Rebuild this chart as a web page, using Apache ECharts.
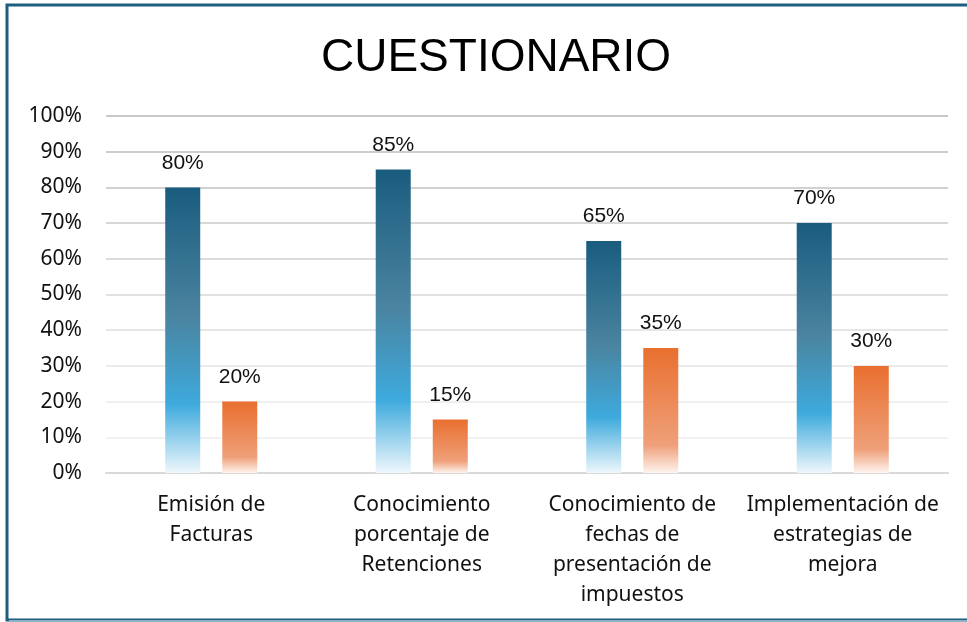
<!DOCTYPE html>
<html>
<head>
<meta charset="utf-8">
<script src="https://cdn.jsdelivr.net/npm/echarts@6/dist/echarts.min.js"></script>
<style>
  html, body { margin: 0; padding: 0; background: #fff; }
  #chart { width: 967px; height: 622px; }
</style>
</head>
<body>
<div id="chart"></div>
<script>
// categorías y valores del cuestionario
var categorias = [
    'Emisión de\nFacturas',
    'Conocimiento\nporcentaje de\nRetenciones',
    'Conocimiento de\nfechas de\npresentación de\nimpuestos',
    'Implementación de\nestrategias de\nmejora'
];
var valoresSi = [80, 85, 65, 70];
var valoresNo = [20, 15, 35, 30];
var ticksY = [0, 10, 20, 30, 40, 50, 60, 70, 80, 90, 100];

// colores de las líneas de la cuadrícula (de abajo hacia arriba)
var coloresGrid = ['#d9d9d9', '#f2f2f2', '#efefef', '#ebebeb', '#e6e6e6',
    '#e1e1e1', '#dcdcdc', '#d7d7d7', '#d1d1d1', '#cdcdcd', '#c8c8c8'];

var myChart = echarts.init(document.getElementById('chart'));

var azul = new echarts.graphic.LinearGradient(0, 0, 0, 1, [
    {offset: 0, color: '#1a5c7e'},
    {offset: 0.45, color: '#4a84a0'},
    {offset: 0.76, color: '#3eaadd'},
    {offset: 1, color: '#eef7fc'}
]);
var naranja = new echarts.graphic.LinearGradient(0, 0, 0, 1, [
    {offset: 0, color: '#e96f2f'},
    {offset: 0.78, color: '#efa07a'},
    {offset: 1, color: '#fef4ef'}
]);

var option = {
    animation: false,
    backgroundColor: '#fff',
    title: {
        text: 'CUESTIONARIO',
        left: 316,
        top: 30,
        textStyle: {
            fontFamily: 'Liberation Sans',
            fontSize: 46,
            fontWeight: 'normal',
            color: '#000'
        }
    },
    graphic: [
        {
            type: 'rect',
            shape: {x: 7, y: 5, width: 1000, height: 615},
            style: {fill: 'none', stroke: '#1c5d80', lineWidth: 3}
        },
        {
            type: 'line',
            shape: {x1: 9, y1: 621, x2: 967, y2: 621},
            style: {stroke: '#8eb1c4', lineWidth: 2}
        }
    ],
    grid: {
        left: 106,
        right: 19,
        top: 116,
        bottom: 149
    },
    xAxis: {
        type: 'category',
        data: categorias,
        axisTick: {show: false},
        axisLine: {lineStyle: {color: '#d9d9d9', width: 2}},
        axisLabel: {
            interval: 0,
            margin: 17,
            fontFamily: 'Noto Sans',
            fontSize: 21,
            lineHeight: 30,
            color: '#111'
        }
    },
    yAxis: {
        type: 'value',
        min: ticksY[0],
        max: ticksY[ticksY.length - 1],
        interval: 10,
        axisLine: {show: false},
        axisTick: {show: false},
        axisLabel: {
            formatter: '{value}%',
            margin: 24,
            fontFamily: 'Noto Sans',
            fontSize: 21,
            color: '#111'
        },
        splitLine: {
            lineStyle: {color: coloresGrid, width: 2}
        }
    },
    series: [
        {
            name: 'Sí',
            type: 'bar',
            data: valoresSi,
            barWidth: 35,
            barGap: '63%',
            itemStyle: {color: azul},
            label: {
                show: true,
                position: 'top',
                distance: 14,
                formatter: '{c}%',
                fontFamily: 'Liberation Sans',
                fontSize: 21,
                color: '#111'
            }
        },
        {
            name: 'No',
            type: 'bar',
            data: valoresNo,
            barWidth: 35,
            itemStyle: {color: naranja},
            label: {
                show: true,
                position: 'top',
                distance: 14,
                formatter: '{c}%',
                fontFamily: 'Liberation Sans',
                fontSize: 21,
                color: '#111'
            }
        }
    ]
};

myChart.setOption(option);
</script>
</body>
</html>
